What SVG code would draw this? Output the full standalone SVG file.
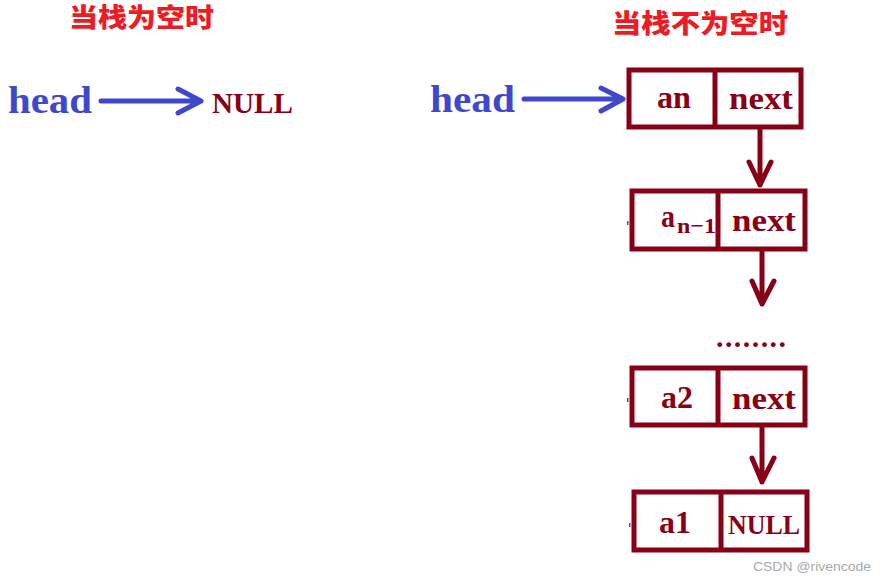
<svg xmlns="http://www.w3.org/2000/svg" width="886" height="582" viewBox="0 0 886 582">
<style>
.title{font-family:"Noto Sans CJK SC","Noto Sans",sans-serif;font-weight:900;font-size:26px;fill:#ED1C24}
.head{font-family:"Liberation Serif","DejaVu Serif",serif;font-weight:bold;font-size:37px;fill:#3F48CC}
.lbl{font-family:"Liberation Serif","DejaVu Serif",serif;font-weight:bold;font-size:31px;fill:#880015}
.sub{font-family:"Liberation Serif","DejaVu Serif",serif;font-weight:bold;font-size:22px;fill:#880015}
.box{fill:#fff;stroke:#880015;stroke-width:5}
.div{stroke:#880015;stroke-width:5}
.ba{fill:none;stroke:#3F48CC;stroke-width:5;stroke-linecap:round;stroke-linejoin:round}
.ra{fill:none;stroke:#880015;stroke-width:5;stroke-linecap:round;stroke-linejoin:round}
.tick{fill:#3F48CC}
</style>
<rect width="886" height="582" fill="#fff"/>
<text class="title" x="69" y="27" textLength="145" lengthAdjust="spacingAndGlyphs">当栈为空时</text>
<text class="title" x="612" y="33" textLength="176" lengthAdjust="spacingAndGlyphs">当栈不为空时</text>

<g id="head-empty"><text class="head" x="8" y="113" textLength="84" lengthAdjust="spacingAndGlyphs">head</text></g>
<g id="null-empty"><text class="lbl" x="212" y="113" textLength="81" lengthAdjust="spacingAndGlyphs" style="font-size:29px">NULL</text></g>
<g id="head-stack"><text class="head" x="430" y="112" textLength="85" lengthAdjust="spacingAndGlyphs">head</text></g>

<g id="node-an">
<rect class="box" x="629" y="70" width="172" height="57"/>
<line class="div" x1="715" y1="70" x2="715" y2="127"/>
<text class="lbl" x="657" y="108" textLength="34" lengthAdjust="spacingAndGlyphs">an</text>
<text class="lbl" x="729" y="109" textLength="64" lengthAdjust="spacingAndGlyphs">next</text>
</g>
<g id="node-an-1">
<rect class="box" x="632" y="191" width="173" height="58"/>
<line class="div" x1="718" y1="191" x2="718" y2="249"/>
<rect class="tick" x="627" y="221" width="1.5" height="4"/>
<text class="lbl" x="661" y="227" textLength="14" lengthAdjust="spacingAndGlyphs">a</text>
<text class="sub" x="677" y="233" textLength="39" lengthAdjust="spacingAndGlyphs">n−1</text>
<text class="lbl" x="732" y="231" textLength="64" lengthAdjust="spacingAndGlyphs">next</text>
</g>
<g id="ellipsis"><text class="lbl" x="716" y="347" textLength="70" lengthAdjust="spacing" style="font-size:30px">........</text></g>
<g id="node-a2">
<rect class="box" x="632" y="368" width="173" height="57"/>
<line class="div" x1="718" y1="368" x2="718" y2="425"/>
<rect class="tick" x="627" y="398" width="1.5" height="4"/>
<text class="lbl" x="661" y="408" textLength="32" lengthAdjust="spacingAndGlyphs">a2</text>
<text class="lbl" x="732" y="409" textLength="64" lengthAdjust="spacingAndGlyphs">next</text>
</g>
<g id="node-a1">
<rect class="box" x="634" y="492" width="173" height="58"/>
<line class="div" x1="721" y1="492" x2="721" y2="550"/>
<rect class="tick" x="629" y="523" width="1.5" height="4"/>
<text class="lbl" x="659" y="533" textLength="32" lengthAdjust="spacingAndGlyphs">a1</text>
<text class="lbl" x="728" y="534" textLength="72" lengthAdjust="spacingAndGlyphs" style="font-size:27px">NULL</text>
</g>

<g id="connectors">
<path class="ba" d="M101 101 H201 M178 89 L201 101 L178 113"/>
<path class="ba" d="M524 99 H623 M601 88 L623 99 L601 111"/>
<path class="ra" d="M760 129 V185 M749 162 L760 185 L771 162"/>
<path class="ra" d="M762 251 V304 M752 281 L762 304 L774 281"/>
<path class="ra" d="M762 427 V482 M752 458 L762 482 L774 458"/>
</g>
<text x="753" y="571" style="font-family:'Liberation Sans',Arial,sans-serif;font-size:13px;fill:#A8A8A8" textLength="118" lengthAdjust="spacingAndGlyphs">CSDN @rivencode</text>
</svg>
